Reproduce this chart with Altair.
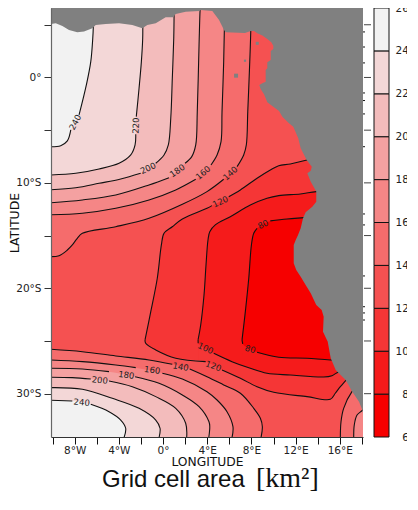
import altair as alt
import pandas as pd

LON_MIN, LON_MAX = -10.14, 18.10
LAT_MIN, LAT_MAX = -34.11, 6.59
SEA_TOP = 6.45
W, H = 312, 429

LEVELS = [60, 80, 100, 120, 140, 160, 180, 200, 220, 240, 260]
BAND_COLORS = ["#f60000", "#f51b1b", "#f53636", "#f55151", "#f56c6c",
               "#f58686", "#f4a1a1", "#f3bcbc", "#f3d7d7", "#f2f2f2"]
LAND = "#808080"

XTICKS = [-10, -8, -6, -4, -2, 0, 2, 4, 6, 8, 10, 12, 14, 16, 18]
YTICKS = [5, 0, -5, -10, -15, -20, -25, -30]
RIGHT_SMALL_TICKS = [4.32, 2.89, 1.38, -1.47, -2.19, -3.46, -6.57, -12.95, -13.99,
                     -18.83, -21.75, -22.34, -23.01]

# contour level lines: (lon, lat); gap = index after which the inline label breaks the line
n240_lon = [-10.14, -9.26, -8.66, -8.35, -7.60, -6.94, -6.54, -6.36, -6.31, -6.29]
n240_lat = [-6.57, -6.47, -6.02, -4.98, -3.56, -0.71, 1.50, 3.72, 4.82, 6.59]
n220_lon = [-10.14, -7.90, -5.79, -3.98, -2.92, -2.53, -2.47, -2.42, -2.17, -1.96, -1.84, -1.83, -1.81]
n220_lat = [-9.25, -9.09, -8.68, -8.14, -7.35, -6.40, -5.39, -3.72, -1.02, 1.50, 3.72, 4.72, 6.59]
n200_lon = [-10.14, -7.90, -5.79, -3.83, -2.02, -0.66, 0.09, 0.48, 0.70, 0.84, 0.97, 1.00, 1.01]
n200_lat = [-10.65, -10.46, -10.04, -9.63, -9.09, -8.14, -7.35, -6.40, -3.87, -0.08, 3.72, 5.77, 6.59]
n180_lon = [-10.14, -7.30, -4.28, -1.27, 0.54, 1.99, 2.60, 2.96, 3.10, 3.26, 3.35, 3.37]
n180_lat = [-11.88, -11.62, -11.15, -10.20, -9.51, -8.14, -7.51, -6.40, -3.24, 3.08, 6.31, 6.59]
n160_lon = [-10.14, -7.30, -4.28, -1.27, 1.15, 2.96, 4.34, 4.89, 5.25, 5.34, 5.49, 5.55, 5.61]
n160_lat = [-13.02, -12.88, -12.41, -11.62, -10.67, -9.66, -8.30, -7.35, -6.09, -3.24, 1.50, 4.51, 6.59]
n140_lon = [-10.14, -9.41, -8.66, -8.21, -7.76, -7.30, -4.28, -1.27, 1.75, 3.98, 5.49, 6.70, 7.30, 7.54, 7.67, 7.85, 7.94, 7.96]
n140_lat = [-17.00, -16.91, -16.37, -15.89, -15.26, -14.78, -14.16, -13.36, -12.03, -10.83, -9.66, -8.46, -7.35, -6.40, -3.24, 1.50, 4.35, 6.59]

u120_lon = [-1.63, -1.11, -0.52, -0.15, 0.09, 0.84, 1.75, 3.98, 4.43, 5.95, 7.00, 8.51, 9.71, 10.47, 11.52, 13.03, 18.10]
u120_lat = [-24.90, -22.22, -19.05, -15.89, -14.78, -14.16, -13.43, -12.41, -12.16, -11.31, -10.67, -9.56, -8.78, -8.37, -8.21, -7.83, -6.90]
l120_lon = [-1.63, -1.57, -0.66, 1.15, 3.86, 5.34, 7.00, 8.51, 10.02, 13.03, 15.14, 15.59, 16.05, 16.59, 18.10]
l120_lat = [-24.90, -25.22, -25.85, -26.64, -26.96, -27.75, -28.54, -29.34, -29.87, -30.28, -30.53, -29.96, -29.34, -28.70, -26.80]
u100_lon = [3.17, 3.41, 3.71, 3.89, 4.07, 4.23, 4.73, 6.09, 7.90, 9.41, 10.47, 12.43, 13.87, 18.10]
u100_lat = [-24.90, -23.48, -20.64, -17.79, -15.42, -14.63, -13.99, -13.21, -12.10, -11.46, -11.21, -11.05, -10.83, -10.39]
l100_lon = [3.17, 3.18, 4.59, 6.24, 7.90, 9.41, 11.52, 14.54, 15.29, 15.75, 18.10]
l100_lat = [-24.90, -25.22, -26.17, -26.96, -27.59, -28.06, -28.23, -28.42, -28.29, -28.01, -26.80]
u80_lon = [7.15, 7.45, 7.76, 8.00, 8.21, 8.51, 9.71, 11.22, 12.73, 18.10]
u80_lat = [-24.90, -22.22, -19.05, -15.89, -14.78, -14.31, -13.61, -13.43, -13.30, -12.86]
l80_lon = [7.15, 7.21, 8.51, 10.47, 13.03, 15.14, 18.10]
l80_lat = [-24.90, -25.28, -26.07, -26.55, -26.64, -26.80, -26.80]

s140_lon = [-10.14, -7.30, -4.28, -1.27, 0.84, 2.42, 3.98, 5.49, 7.00, 8.21, 8.81, 8.99, 8.87]
s140_lat = [-25.79, -26.02, -26.42, -26.80, -27.21, -27.66, -28.39, -29.17, -29.96, -31.39, -32.33, -33.13, -34.17]
s160_lon = [-10.14, -7.30, -4.28, -2.47, -0.06, 1.75, 3.98, 4.89, 5.79, 6.33, 6.24]
s160_lat = [-26.80, -26.96, -27.28, -27.53, -28.06, -28.61, -29.81, -30.60, -31.71, -33.13, -34.17]
s180_lon = [-10.14, -7.30, -4.89, -2.53, -0.36, 1.75, 3.26, 4.16, 4.23, 4.14]
s180_lat = [-27.59, -27.66, -27.91, -28.39, -29.01, -30.12, -31.23, -32.66, -33.13, -34.17]
s200_lon = [-10.14, -8.21, -6.54, -4.89, -2.78, -0.66, 1.15, 2.05, 2.14]
s200_lat = [-28.44, -28.48, -28.61, -28.80, -29.34, -30.28, -31.39, -32.81, -34.17]
s220_lon = [-10.14, -7.30, -4.59, -2.17, -0.66, -0.27, -0.36]
s220_lat = [-29.43, -29.58, -30.44, -31.39, -32.50, -33.28, -34.17]
s240_lon = [-10.14, -8.21, -6.54, -4.89, -3.83, -3.38, -3.53]
s240_lat = [-30.63, -30.69, -31.01, -31.71, -32.50, -33.28, -34.17]
e140_lon = [16.05, 16.11, 16.35, 17.10, 18.10]
e140_lat = [-34.17, -32.66, -31.39, -29.81, -28.70]
e160_lon = [17.26, 17.31, 17.56, 18.01, 18.10]
e160_lat = [-34.17, -32.97, -32.03, -31.61, -31.45]

# inline contour labels
label_text = ["240", "220", "200", "180", "160", "140", "120", "80", "100", "120", "80",
              "140", "160", "180", "200", "240"]
label_lon = [-7.96, -2.47, -1.36, 1.29, 3.62, 6.09, 5.19, 9.05, 3.86, 4.57, 7.90,
             1.60, -0.97, -3.32, -5.73, -7.36]
label_lat = [-4.25, -4.57, -8.61, -8.84, -9.03, -9.09, -11.78, -13.93, -25.69, -27.37, -25.76,
             -27.44, -27.75, -28.23, -28.70, -30.82]
label_angle = [298, 272, 335, 325, 320, 318, 335, 335, 25, 20, 15, 10, 8, 8, 5, 5]

# land mask outline
north_lon = [-10.14, -9.71, -9.11, -8.51, -7.76, -7.15, -6.40, -6.09, -5.19, -3.98, -2.78, -1.87,
             -1.42, -0.66, 0.24, 0.90, 1.15, 2.05, 3.26, 3.41, 4.46, 5.07, 5.52, 5.67, 7.42, 7.94,
             8.24, 18.10]
north_lat = [5.08, 5.14, 4.89, 4.51, 4.29, 4.35, 4.67, 4.98, 5.08, 5.14, 4.98, 4.67,
             4.98, 5.14, 5.71, 5.71, 6.02, 6.24, 6.31, 6.40, 6.31, 5.46, 4.51, 4.29, 4.22, 4.41,
             4.41, 4.41]
coast_lon = [8.24, 8.53, 8.99, 9.44, 9.80, 9.98, 9.98, 9.75, 9.75, 9.44, 9.44, 9.29, 9.29, 8.99, 8.71,
             8.84, 9.14, 9.44, 9.98, 10.50, 10.80, 11.40, 11.79, 12.24, 12.46, 13.00, 13.46, 13.37,
             13.06, 13.37, 13.87, 13.87, 13.51, 12.91, 12.67, 12.46, 12.22, 12.01, 11.83, 11.83,
             12.06, 12.46, 12.91, 13.37, 13.87, 14.36, 14.54, 14.48, 14.91, 14.96, 15.18, 15.63,
             16.53, 17.13, 17.74, 18.04, 18.10]
coast_lat = [4.41, 4.19, 3.97, 3.65, 3.34, 3.02, 2.70, 2.51, 1.66, 1.44, 0.87, 0.71, -0.40, -0.55, -0.71,
             -1.09, -1.59, -2.35, -2.77, -3.18, -3.72, -4.35, -4.67, -5.77, -6.72, -7.83, -8.46, -8.84,
             -9.09, -9.89, -10.83, -11.78, -12.26, -12.79, -13.36, -14.31, -14.94, -15.42, -15.89, -17.63,
             -18.26, -18.90, -19.69, -20.47, -21.59, -22.06, -22.69, -24.12, -25.07, -25.38, -26.64, -27.75,
             -28.70, -29.81, -30.76, -31.55, -31.83]
island_lon = [8.53, 7.42, 6.61]
island_lat = [3.24, 1.59, 0.17]
island_size = [9, 5, 16]

FONT = "DejaVu Sans"
CURVE = "catmull-rom"
x_scale = alt.Scale(domain=[LON_MIN, LON_MAX], nice=False, zero=False)
y_scale = alt.Scale(domain=[LAT_MIN, LAT_MAX], nice=False, zero=False)

x_axis = alt.Axis(values=XTICKS, title="LONGITUDE", grid=False, tickSize=7, tickColor="#111",
                  domainColor="#333", domainWidth=1.2, labelPadding=1, titlePadding=0,
                  labelExpr="datum.value%4==0 ? abs(datum.value)+'°'+(datum.value<0?'W':datum.value>0?'E':'') : ''",
                  labelFont=FONT, labelFontSize=10.5, labelColor="#222", titleFont=FONT,
                  titleFontSize=12.3, titleFontWeight="normal", titleColor="#111", zindex=1,
                  labelOverlap=False, labelFlush=False)
y_axis = alt.Axis(values=YTICKS, title="LATITUDE", grid=False, tickSize=7, tickColor="#333",
                  domainColor="#666", domainWidth=1.2, labelPadding=3, titlePadding=-5.5,
                  labelExpr="datum.value%10==0 ? abs(datum.value)+'°'+(datum.value<0?'S':'') : ''",
                  labelFont=FONT, labelFontSize=10.5, labelColor="#222", titleFont=FONT,
                  titleFontSize=12.5, titleFontWeight="normal", titleColor="#111", zindex=1,
                  labelOverlap=False)


def frame(lon, lat):
    return pd.DataFrame({"i": range(len(lon)), "lon": lon, "lat": lat})


def X():
    return alt.X("lon:Q", scale=x_scale, axis=x_axis)


def Y():
    return alt.Y("lat:Q", scale=y_scale, axis=y_axis)


def fill(lon, lat, color, to):
    # an area runs left to right, so the small hook back at the map's lower edge is left out
    keep_lon, keep_lat = [], []
    for a, b in zip(lon, lat):
        if not keep_lon or a > keep_lon[-1]:
            keep_lon.append(a)
            keep_lat.append(b)
    d = frame(keep_lon, keep_lat)
    d["edge"] = to
    return alt.Chart(d).mark_area(color=color, interpolate=CURVE, clip=True).encode(
        x=X(), y=Y(), y2=alt.Y2("edge"))


c = dict(zip(LEVELS, BAND_COLORS))

base_df = frame([LON_MIN, LON_MAX], [SEA_TOP, SEA_TOP])
base_df["edge"] = LAT_MIN
base = alt.Chart(base_df).mark_area(color=c[120]).encode(
    x=X(), y=Y(), y2=alt.Y2("edge"))

layers = [base]
# bands closing the north-west
for lon, lat, lev in [(n140_lon, n140_lat, 140), (n160_lon, n160_lat, 160), (n180_lon, n180_lat, 180),
                      (n200_lon, n200_lat, 200), (n220_lon, n220_lat, 220), (n240_lon, n240_lat, 240)]:
    layers.append(fill(lon, lat, c[lev], SEA_TOP))
# central low: inner tongues painted over each other
layers.append(fill(u120_lon, u120_lat, c[100], LAT_MIN))
layers.append(fill(u100_lon, u100_lat, c[80], LAT_MIN))
layers.append(fill(u80_lon, u80_lat, c[60], LAT_MIN))
layers.append(fill(l80_lon, l80_lat, c[80], LAT_MIN))
layers.append(fill(l100_lon, l100_lat, c[100], LAT_MIN))
layers.append(fill(l120_lon, l120_lat, c[120], LAT_MIN))
# bands closing the south
for lon, lat, lev in [(s140_lon, s140_lat, 140), (s160_lon, s160_lat, 160), (s180_lon, s180_lat, 180),
                      (s200_lon, s200_lat, 200), (s220_lon, s220_lat, 220), (s240_lon, s240_lat, 240),
                      (e140_lon, e140_lat, 140), (e160_lon, e160_lat, 160)]:
    layers.append(fill(lon, lat, c[lev], LAT_MIN))

# contour lines, broken where an inline label sits
line_specs = [(n240_lon, n240_lat, 3), (n220_lon, n220_lat, 6), (n200_lon, n200_lat, 4),
              (n180_lon, n180_lat, 4), (n160_lon, n160_lat, 5), (n140_lon, n140_lat, 10),
              (u120_lon, u120_lat, 8), (l120_lon, l120_lat, 4), (u100_lon, u100_lat, None),
              (l100_lon, l100_lat, 1), (u80_lon, u80_lat, 5), (l80_lon, l80_lat, 1),
              (s140_lon, s140_lat, 4), (s160_lon, s160_lat, 3), (s180_lon, s180_lat, 2),
              (s200_lon, s200_lat, 2), (s220_lon, s220_lat, None), (s240_lon, s240_lat, 1),
              (e140_lon, e140_lat, None), (e160_lon, e160_lat, None)]
rows = []
seg = 0
for lon, lat, gap in line_specs:
    for k, (a, b) in enumerate(zip(lon, lat)):
        if gap is not None and k == gap + 1:
            seg += 1
        rows.append({"seg": seg, "i": k, "lon": a, "lat": b})
    seg += 1
lines = alt.Chart(pd.DataFrame(rows)).mark_line(
    color="#111", strokeWidth=1.1, interpolate=CURVE, clip=True).encode(
    x=X(), y=Y(), detail="seg:N", order=alt.Order("i:Q"))
layers.append(lines)

labels = alt.Chart(pd.DataFrame({"t": label_text, "lon": label_lon, "lat": label_lat, "a": label_angle})).mark_text(
    font=FONT, fontSize=8.5, color="#222", baseline="middle", align="center").encode(
    x=X(), y=Y(), text="t:N", angle=alt.Angle("a:Q", scale=None))
layers.append(labels)

# land on top of everything
north = frame(north_lon, north_lat)
north["edge"] = LAT_MAX
layers.append(alt.Chart(north).mark_area(color=LAND, clip=True).encode(
    x=X(), y=Y(), y2=alt.Y2("edge")))
east = frame(coast_lon, coast_lat)
east["edge"] = LON_MAX
layers.append(alt.Chart(east).mark_area(color=LAND, orient="horizontal", clip=True).encode(
    x=X(), x2=alt.X2("edge"), y=Y()))
layers.append(alt.Chart(pd.DataFrame({"lon": island_lon, "lat": island_lat, "s": island_size})).mark_square(
    color=LAND, opacity=1).encode(x=X(), y=Y(), size=alt.Size("s:Q", scale=None)))

# ticks on the top and right edges
layers.append(alt.Chart(pd.DataFrame({"lon": XTICKS})).mark_rule(color="#111", strokeWidth=1).encode(
    x=X(), y=alt.value(-1), y2=alt.value(-6)))
layers.append(alt.Chart(pd.DataFrame({"lat": YTICKS})).mark_rule(color="#444", strokeWidth=1).encode(
    y=Y(), x=alt.value(W + 1), x2=alt.value(W + 8)))
layers.append(alt.Chart(pd.DataFrame({"lat": RIGHT_SMALL_TICKS})).mark_rule(color="#111", strokeWidth=1).encode(
    y=Y(), x=alt.value(W), x2=alt.value(W + 2)))

# title, mixed sans text and a roman unit
layers.append(alt.Chart(pd.DataFrame({"t": ["Grid cell area"]})).mark_text(
    font="Liberation Sans", fontSize=24, color="#111", align="left", baseline="alphabetic").encode(
    text="t:N", x=alt.value(51), y=alt.value(479)))
layers.append(alt.Chart(pd.DataFrame({"t": ["[km²]"]})).mark_text(
    font="Liberation Serif", fontSize=28, color="#111", align="left", baseline="alphabetic").encode(
    text="t:N", x=alt.value(205), y=alt.value(479)))

main = alt.layer(*layers).properties(width=W, height=H)

cb = pd.DataFrame({"lo": LEVELS[:-1], "hi": LEVELS[1:], "col": BAND_COLORS})
bar = alt.Chart(cb).mark_rect(stroke="#111", strokeWidth=1).encode(
    y=alt.Y("lo:Q", scale=alt.Scale(domain=[60, 260], nice=False, zero=False),
            axis=alt.Axis(orient="right", values=LEVELS, title=None, grid=False, tickSize=0, domain=False,
                          labelFont=FONT, labelFontSize=10.5, labelColor="#222", labelPadding=26,
                          labelAlign="right", labelOverlap=False, labelFlush=False)),
    y2="hi:Q",
    x=alt.value(0), x2=alt.value(15),
    color=alt.Color("col:N", scale=None),
).properties(width=15, height=H)

chart = alt.hconcat(main, bar, spacing=1).properties(
    padding={"left": 0, "right": -8, "top": -7, "bottom": -2}).configure_view(stroke=None)
chart.save("out.html", embed_options={"renderer": "svg", "actions": False})
